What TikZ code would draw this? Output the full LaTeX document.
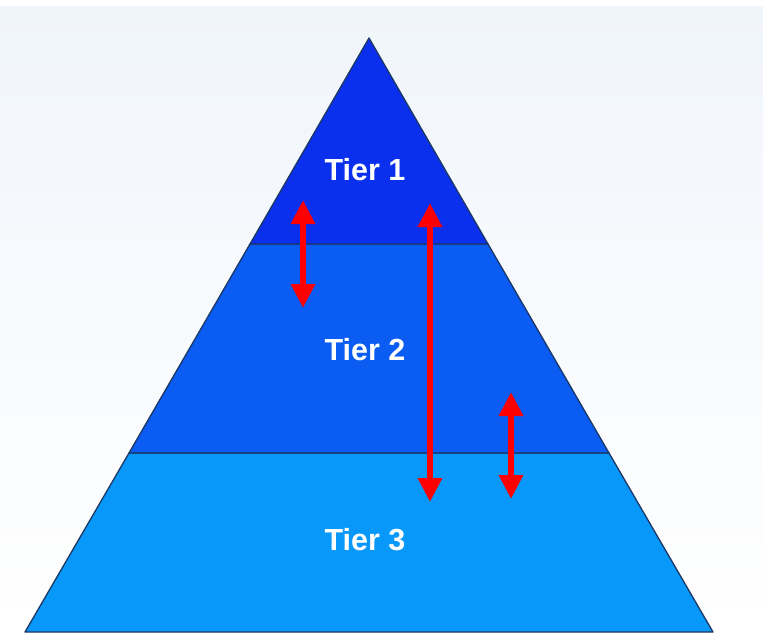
\documentclass[tikz,border=0pt]{standalone}
\usepackage{fontspec}
\setmainfont{Liberation Sans}
\usetikzlibrary{arrows.meta}
\definecolor{tA}{HTML}{0A30EE}
\definecolor{tB}{HTML}{0A5CF2}
\definecolor{tC}{HTML}{0898FA}
\definecolor{edge}{HTML}{1B3763}
\definecolor{bgtop}{HTML}{F0F5FB}
\tikzset{
  tier/.style={draw=edge, line width=1.3pt, line join=round},
  lbl/.style={text=white, font=\bfseries\fontsize{30.5}{33}\selectfont},
  dbl/.style={draw=red, line width=6pt, {Triangle[width=23pt,length=24pt]}-{Triangle[width=23pt,length=24pt]}}
}
\begin{document}
\begin{tikzpicture}[x=1pt,y=-1pt]
\useasboundingbox (0,0) rectangle (763,635);
\shade[top color=bgtop, bottom color=white] (0,0) rectangle (763,635);
\fill[white] (0,0) rectangle (763,6);
% pyramid
\coordinate (apex) at (369,38);
\coordinate (l1) at (250,244); \coordinate (r1) at (488,244);
\coordinate (l2) at (129,453); \coordinate (r2) at (609,453);
\coordinate (l3) at (25,632);  \coordinate (r3) at (713,632);
\filldraw[tier, fill=tC] (l2) -- (r2) -- (r3) -- (l3) -- cycle;
\filldraw[tier, fill=tB] (l1) -- (r1) -- (r2) -- (l2) -- cycle;
\filldraw[tier, fill=tA] (apex) -- (r1) -- (l1) -- cycle;
\node[lbl] (t1) at (365,170) {Tier 1};
\node[lbl] (t2) at (365,350) {Tier 2};
\node[lbl] (t3) at (365,540) {Tier 3};
% arrows
\coordinate (a1s) at (303,200); \coordinate (a1e) at (303,308);
\coordinate (a2s) at (430,203); \coordinate (a2e) at (430,502);
\coordinate (a3s) at (511,392); \coordinate (a3e) at (511,499);
\draw[dbl] (a1s) -- (a1e);
\draw[dbl] (a2s) -- (a2e);
\draw[dbl] (a3s) -- (a3e);
\end{tikzpicture}
\end{document}
